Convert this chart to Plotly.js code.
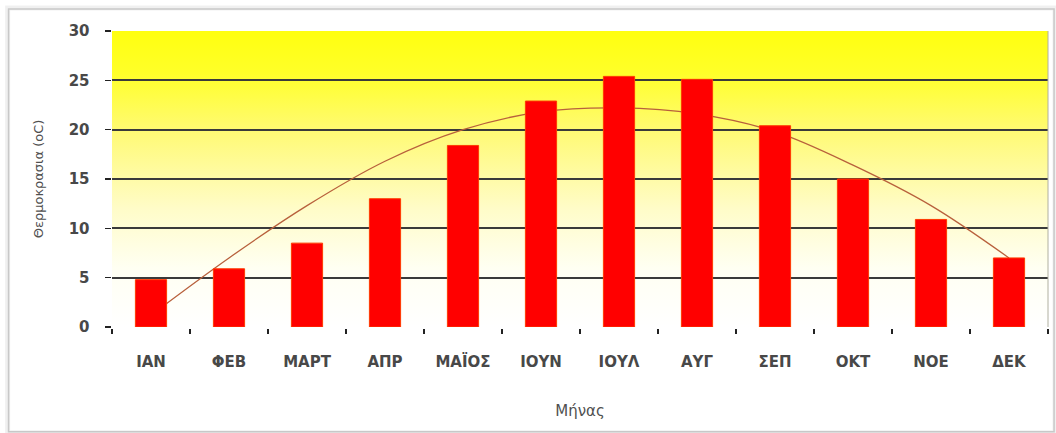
<!DOCTYPE html>
<html>
<head>
<meta charset="utf-8">
<script src="https://cdn.plot.ly/plotly-3.0.1.min.js"></script>
<style>
  html, body { margin: 0; padding: 0; background: #ffffff; }
  #chart { width: 1056px; height: 433px; }
</style>
</head>
<body>
<div id="chart"></div>
<script>
// Categories (months, Greek abbreviations)
const months = ["ΙΑΝ", "ΦΕΒ", "ΜΑΡΤ", "ΑΠΡ", "ΜΑΪΟΣ", "ΙΟΥΝ", "ΙΟΥΛ", "ΑΥΓ", "ΣΕΠ", "ΟΚΤ", "ΝΟΕ", "ΔΕΚ"];
// Mean monthly temperature (bars)
const temperature = [4.8, 5.9, 8.5, 13.0, 18.4, 22.9, 25.4, 25.1, 20.4, 15.0, 10.9, 7.0];
// Trend line (polynomial trendline)
const trend = [1.2, 7.0, 12.3, 16.8, 20.0, 21.8, 22.2, 21.6, 19.8, 16.4, 12.3, 7.0];
// Y axis ticks
const yTicks = [0, 5, 10, 15, 20, 25, 30];

const gradSvg =
  '<svg xmlns="http://www.w3.org/2000/svg" width="100" height="100" preserveAspectRatio="none">' +
  '<defs><linearGradient id="g" x1="0" y1="0" x2="0" y2="1">' +
  '<stop offset="0" stop-color="#ffff10"/>' +
  '<stop offset="0.14" stop-color="#ffff28"/>' +
  '<stop offset="0.35" stop-color="#fffa78"/>' +
  '<stop offset="0.6" stop-color="#fffcc8"/>' +
  '<stop offset="0.8" stop-color="#fffff2"/>' +
  '<stop offset="1" stop-color="#ffffff"/>' +
  '</linearGradient></defs>' +
  '<rect width="100" height="100" fill="url(#g)"/></svg>';
const gradUri = 'data:image/svg+xml;base64,' + btoa(gradSvg);

const traces = [
  {
    type: 'scatter',
    mode: 'lines',
    x: months,
    y: trend,
    line: { color: '#b8603c', width: 1.3, shape: 'spline', smoothing: 1 },
    hoverinfo: 'skip',
    showlegend: false,
    zorder: -1
  },
  {
    type: 'bar',
    x: months,
    y: temperature,
    width: 0.4,
    marker: { color: '#ff0000', line: { color: '#ff3a00', width: 1 } },
    showlegend: false,
    zorder: 1
  }
];

const FONT = 'DejaVu Sans, Verdana, sans-serif';
const tickFont = { family: FONT, size: 15, color: '#484848', weight: 'bold' };

const layout = {
  width: 1056,
  height: 433,
  margin: { l: 112, r: 8, t: 31, b: 106 },
  paper_bgcolor: '#ffffff',
  plot_bgcolor: 'rgba(0,0,0,0)',
  showlegend: false,
  xaxis: {
    type: 'category',
    tickson: 'boundaries',
    ticks: 'outside',
    ticklen: 5,
    tickcolor: '#222',
    tickwidth: 1.5,
    showline: true,
    linecolor: '#222',
    linewidth: 1.5,
    showgrid: false,
    tickfont: tickFont,
    ticklabelstandoff: 20,
    title: { text: 'Μήνας', font: { family: FONT, size: 15, color: '#505050' }, standoff: 36 },
    fixedrange: true
  },
  yaxis: {
    range: [0, 30],
    tickvals: yTicks,
    ticktext: yTicks.map(String),
    ticks: 'outside',
    ticklen: 6,
    tickcolor: '#222',
    tickwidth: 1.5,
    showline: true,
    linecolor: '#222',
    linewidth: 1.5,
    showgrid: true,
    gridcolor: '#3a3a3a',
    gridwidth: 1.8,
    zeroline: false,
    tickfont: tickFont,
    ticklabelstandoff: 12,
    title: { text: 'Θερμοκρασια (oC)', font: { family: FONT, size: 13, color: '#505050' }, standoff: 22 },
    fixedrange: true
  },
  images: [{
    source: gradUri,
    xref: 'paper', yref: 'paper',
    x: 0, y: 1, sizex: 1, sizey: 1,
    xanchor: 'left', yanchor: 'top',
    sizing: 'stretch',
    layer: 'below'
  }],
  shapes: [
    { type: 'line', xref: 'paper', yref: 'paper', x0: 1, x1: 1, y0: 0, y1: 1, line: { color: '#b0b0a0', width: 1 } },
    { type: 'rect', xref: 'paper', yref: 'paper', x0: -0.1115, x1: 1.0075, y0: -0.357, y1: 1.078, line: { color: 'rgba(0,0,0,0.06)', width: 5 }, layer: 'below' },
    { type: 'rect', xref: 'paper', yref: 'paper', x0: -0.1105, x1: 1.0065, y0: -0.354, y1: 1.074, line: { color: '#c8c8c8', width: 1.5 }, layer: 'below' }
  ]
};

Plotly.newPlot('chart', traces, layout, { displayModeBar: false, staticPlot: true });
</script>
</body>
</html>
